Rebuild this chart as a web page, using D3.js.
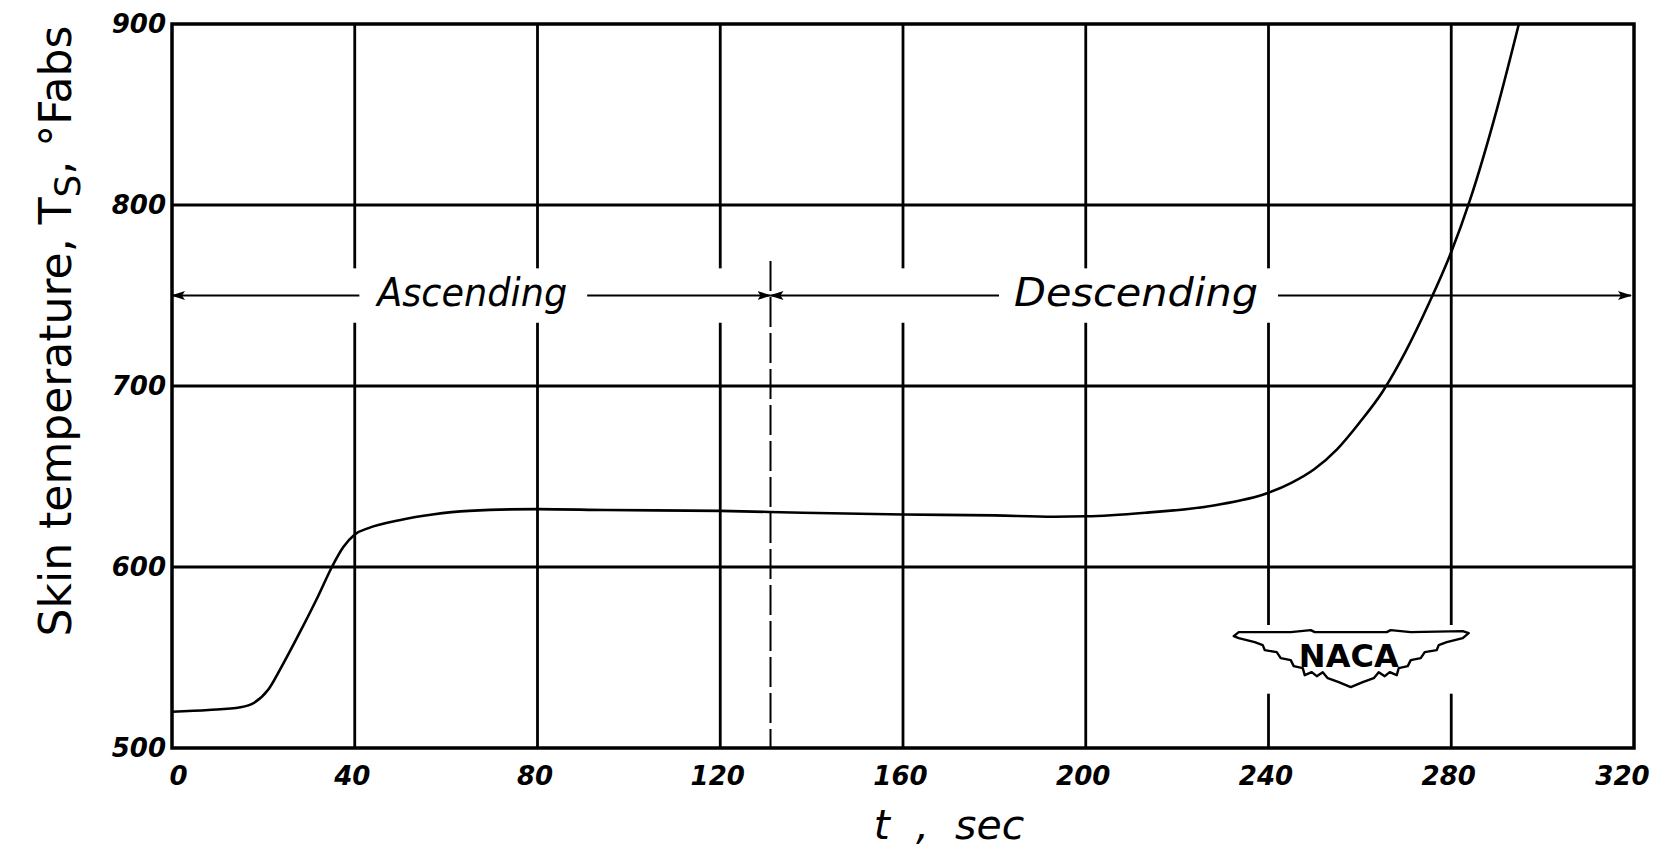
<!DOCTYPE html>
<html>
<head>
<meta charset="utf-8">
<script src="https://cdn.jsdelivr.net/npm/d3@7"></script>
<style>
  body { margin: 0; background: #fff; }
  text { font-family: "DejaVu Sans", sans-serif; fill: #000; }
</style>
</head>
<body>
<div id="chart"></div>
<script>
// skin temperature history
const timeSec  = [0, 8, 15, 18, 21, 24, 28, 32, 35, 37.5, 40, 43, 50, 57, 65, 80, 95, 120, 138, 160, 180, 193, 200, 213, 228, 240, 245, 250, 255, 260, 265, 270, 275, 280, 284, 290, 294.8];
const skinTemp = [520, 521, 522.5, 525, 532, 545, 564, 584, 600, 611, 618, 621.5, 626, 629, 631, 632, 631.5, 631, 630, 629, 628.5, 627.8, 628, 630, 634, 641, 646.5, 654, 665, 680, 697, 719, 745, 774, 802, 853, 900];
const xTicks = [0, 40, 80, 120, 160, 200, 240, 280, 320];
const yTicks = [500, 600, 700, 800, 900];
const phaseNames = ["Ascending", "Descending"];
const phaseBounds = [0, 131, 320];   // ascent ends at t = 131 sec

const width = 1657, height = 852;
const margin = {top: 24, right: 23, bottom: 104, left: 172};

const x = d3.scaleLinear().domain([0, 320]).range([margin.left, width - margin.right]);
const y = d3.scaleLinear().domain([500, 900]).range([height - margin.bottom, margin.top]);

const svg = d3.select("#chart")
  .append("svg")
  .attr("width", width)
  .attr("height", height)
  .style("display", "block")
  .style("background", "#fff");

svg.append("defs").append("marker")
  .attr("id", "head")
  .attr("viewBox", "0 -5 14 10")
  .attr("refX", 13)
  .attr("refY", 0)
  .attr("markerUnits", "userSpaceOnUse")
  .attr("markerWidth", 14)
  .attr("markerHeight", 10)
  .attr("orient", "auto-start-reverse")
  .append("path")
  .attr("d", "M0,-4.5L14,0L0,4.5L3,0Z")
  .attr("fill", "#000");

// vertical grid lines, broken where the phase labels and the logo sit
const labelBand = [735, 765], logoBand = [530, 568];
const gaps = t => {
  const g = [];
  if (t > 0 && t < 320 && t !== 280) g.push(labelBand);
  if (t === 240 || t === 280) g.push(logoBand);
  return g.sort((a, b) => b[0] - a[0]);
};
const segs = [];
xTicks.slice(1, -1).forEach(t => {
  let top = 900;
  gaps(t).forEach(([lo, hi]) => { segs.push([t, top, hi]); top = lo; });
  segs.push([t, top, 500]);
});

const grid = svg.append("g").attr("stroke", "#000").attr("stroke-width", 2.8);
grid.selectAll("line.v")
  .data(segs)
  .join("line")
  .attr("class", "v")
  .attr("x1", d => x(d[0])).attr("x2", d => x(d[0]))
  .attr("y1", d => y(d[1])).attr("y2", d => y(d[2]));
grid.selectAll("line.h")
  .data(yTicks.slice(1, -1))
  .join("line")
  .attr("class", "h")
  .attr("x1", x(0)).attr("x2", x(320))
  .attr("y1", d => y(d)).attr("y2", d => y(d));

svg.append("rect")
  .attr("x", x(0)).attr("y", y(900))
  .attr("width", x(320) - x(0)).attr("height", y(500) - y(900))
  .attr("fill", "none").attr("stroke", "#000").attr("stroke-width", 3.5);

// end of ascent
svg.append("line")
  .attr("x1", x(phaseBounds[1])).attr("x2", x(phaseBounds[1]))
  .attr("y1", y(769)).attr("y2", y(500))
  .attr("stroke", "#000").attr("stroke-width", 2)
  .attr("stroke-dasharray", "30,6");

// phase labels with arrows
const labelX = [x(65.7), x(211)];
phaseNames.forEach((name, i) => {
  const ay = y(750);
  const txt = svg.append("text")
    .attr("x", labelX[i]).attr("y", ay + 10)
    .attr("text-anchor", "middle")
    .attr("font-style", "italic")
    .attr("font-size", 39)
    .attr("textLength", i ? 244 : 190)
    .attr("lengthAdjust", "spacingAndGlyphs")
    .text(name);
  const bb = txt.node().getBBox();
  const x0 = x(phaseBounds[i]), x1 = x(phaseBounds[i + 1]);
  [[bb.x - 15, x0], [bb.x + bb.width + 20, x1 - (i ? 3 : 0)]].forEach(([a, b]) => {
    svg.append("line")
      .attr("x1", a).attr("x2", b)
      .attr("y1", ay).attr("y2", ay)
      .attr("stroke", "#000").attr("stroke-width", 2.2)
      .attr("marker-end", "url(#head)");
  });
});

// temperature curve
const line = d3.line()
  .x((d, i) => x(timeSec[i]))
  .y(d => y(d))
  .curve(d3.curveMonotoneX);
svg.append("path")
  .datum(skinTemp)
  .attr("fill", "none")
  .attr("stroke", "#000")
  .attr("stroke-width", 2.6)
  .attr("d", line);

// axes (labels only, the frame is drawn above)
const xAxis = svg.append("g")
  .attr("transform", `translate(0,${y(500)})`)
  .call(d3.axisBottom(x).tickValues(xTicks).tickSize(0).tickPadding(19).tickFormat(d3.format("d")));
const yAxis = svg.append("g")
  .attr("transform", `translate(${x(0)},0)`)
  .call(d3.axisLeft(y).tickValues(yTicks).tickSize(0).tickPadding(6).tickFormat(d3.format("d")));
[xAxis, yAxis].forEach(a => {
  a.select(".domain").remove();
  a.selectAll("text")
    .attr("font-family", "DejaVu Sans, sans-serif")
    .attr("font-size", 26)
    .attr("font-style", "italic")
    .attr("font-weight", "bold")
    .attr("fill", "#000");
});
xAxis.selectAll(".tick text").attr("dx", d => d === 0 ? 6 : d === 320 ? -12 : -3);

svg.append("text")
  .attr("x", 949).attr("y", 839)
  .attr("text-anchor", "middle")
  .attr("font-style", "italic")
  .attr("font-size", 41)
  .style("white-space", "pre")
  .text("t  ,  sec");

const yTitle = svg.append("text")
  .attr("transform", "translate(71,331) rotate(-90)")
  .attr("text-anchor", "middle")
  .attr("font-size", 44);
yTitle.append("tspan").text("Skin temperature, T");
yTitle.append("tspan").attr("dy", 9).attr("font-size", 36).text("S");
yTitle.append("tspan").attr("dy", -9).text(", °Fabs");

// NACA wings emblem
const logo = svg.append("g").attr("transform", `translate(${x(258)},${y(564)})`);
const rightEdge = [[112, 6], [96, 10], [88, 13], [86, 18], [74, 20], [70, 26], [60, 28], [57, 34], [48, 36], [46, 43], [39, 40], [34, 44], [28, 40], [23, 46], [12, 50], [0, 55]];
const leftEdge = rightEdge.slice(0, -1).reverse().map(([px, py]) => [-px, py]);
const outline = [[-117, 4], [-112, 0], [-60, 0], [-40, -2], [-36, 0], [36, 0], [40, -2], [60, 0], [112, -1], [118, 1]]
  .concat(rightEdge, leftEdge);
logo.append("path")
  .attr("d", d3.line()(outline) + "Z")
  .attr("fill", "#fff")
  .attr("stroke", "#000")
  .attr("stroke-width", 2.4)
  .attr("stroke-linejoin", "round");
logo.append("text")
  .attr("x", -2).attr("y", 35)
  .attr("text-anchor", "middle")
  .attr("font-family", "Liberation Sans, Arial, sans-serif")
  .attr("font-weight", "bold")
  .attr("font-size", 32)
  .text("NACA");
</script>
</body>
</html>
